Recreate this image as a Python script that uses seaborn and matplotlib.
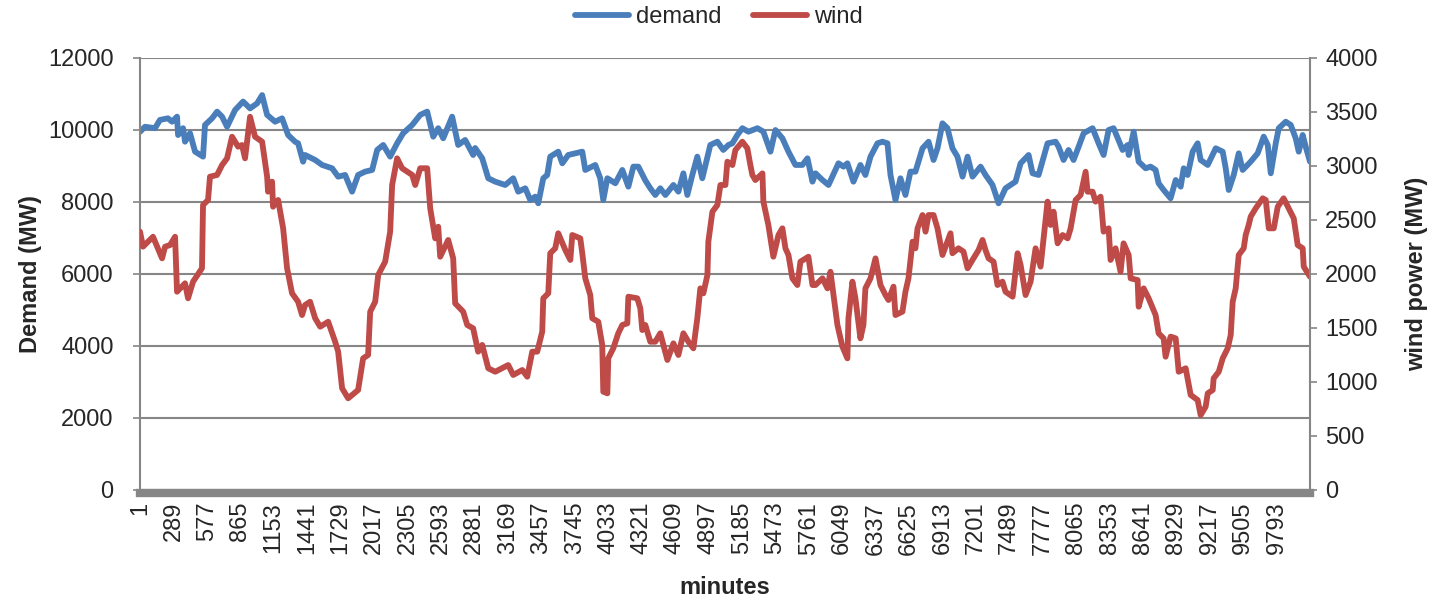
import matplotlib
matplotlib.use("Agg")
import matplotlib.pyplot as plt
import seaborn as sns

# demand curve (minute, MW)
demand_min = [1, 44, 130, 173, 242, 277, 320, 329, 372, 389, 432, 475, 544, 561, 622, 665,
              708, 751, 820, 889, 949, 1010, 1053, 1096, 1165, 1225, 1277, 1337, 1363, 1406,
              1423, 1510, 1570, 1656, 1708, 1768, 1828, 1880, 1940, 2001, 2044, 2096, 2156,
              2216, 2268, 2346, 2415, 2475, 2527, 2570, 2613, 2690, 2742, 2802, 2871, 2888,
              2949, 3001, 3061, 3147, 3216, 3259, 3320, 3363, 3406, 3432, 3475, 3509, 3535,
              3604, 3639, 3690, 3811, 3837, 3923, 3966, 3992, 4027, 4096, 4156, 4208, 4251,
              4294, 4354, 4397, 4440, 4483, 4527, 4596, 4639, 4682, 4716, 4759, 4802, 4845,
              4914, 4975, 5026, 5070, 5104, 5147, 5190, 5242, 5320, 5371, 5432, 5475, 5535,
              5587, 5647, 5707, 5751, 5794, 5820, 5880, 5932, 6018, 6061, 6095, 6147, 6207,
              6250, 6294, 6354, 6397, 6440, 6466, 6509, 6552, 6595, 6638, 6681, 6742, 6794,
              6837, 6871, 6914, 6957, 7000, 7043, 7087, 7130, 7173, 7242, 7285, 7345, 7397,
              7457, 7543, 7587, 7656, 7690, 7742, 7819, 7888, 7914, 7957, 8000, 8043, 8087,
              8130, 8207, 8259, 8302, 8345, 8388, 8466, 8509, 8518, 8561, 8604, 8664, 8707,
              8750, 8776, 8819, 8879, 8923, 8966, 8992, 9026, 9069, 9112, 9138, 9199, 9268,
              9328, 9354, 9380, 9423, 9466, 9500, 9569, 9629, 9681, 9716, 9742, 9785, 9811,
              9871, 9914, 9957, 9983, 10017, 10043, 10080]
demand_mw = [9950, 10090, 10050, 10280, 10325, 10230, 10370, 9860, 10050, 9675, 9910, 9400,
             9260, 10140, 10325, 10510, 10370, 10090, 10555, 10790, 10600, 10740, 10970, 10420,
             10230, 10325, 9860, 9675, 9630, 9120, 9306, 9167, 9029, 8936, 8704, 8751, 8287,
             8751, 8843, 8890, 9445, 9584, 9260, 9630, 9910, 10140, 10420, 10510, 9815, 10050,
             9770, 10370, 9584, 9723, 9306, 9500, 9214, 8659, 8565, 8473, 8659, 8287, 8381,
             8056, 8148, 7964, 8659, 8751, 9260, 9398, 9075, 9306, 9398, 8890, 9029, 8659,
             8056, 8659, 8520, 8890, 8426, 8982, 8982, 8600, 8381, 8195, 8381, 8195, 8473,
             8287, 8797, 8195, 8751, 9260, 8659, 9584, 9675, 9445, 9584, 9630, 9862, 10050,
             9953, 10050, 9953, 9398, 10000, 9770, 9398, 9029, 9029, 9214, 8565, 8797, 8611,
             8473, 9075, 8982, 9075, 8565, 9029, 8751, 9260, 9630, 9675, 9630, 8751, 8056,
             8659, 8195, 8843, 8843, 9492, 9675, 9167, 9492, 10186, 10050, 9492, 9260, 8704,
             9260, 8704, 8982, 8750, 8473, 7964, 8381, 8565, 9075, 9306, 8797, 8751, 9630,
             9675, 9537, 9167, 9445, 9167, 9537, 9910, 10050, 9630, 9306, 10000, 10050, 9445,
             9584, 9306, 9953, 9120, 8936, 8982, 8890, 8520, 8334, 8103, 8611, 8426, 8936,
             8751, 9398, 9630, 9167, 9029, 9492, 9398, 8936, 8334, 8751, 9352, 8890, 9120,
             9352, 9815, 9584, 8797, 9630, 10050, 10230, 10140, 9770, 9398, 9862, 9537, 9120]

# wind curve (minute, MW)
wind_min = [1, 27, 113, 191, 217, 260, 303, 320, 389, 415, 458, 535, 544, 587, 604, 665, 708,
            751, 794, 846, 880, 906, 949, 992, 1053, 1096, 1104, 1139, 1147, 1191, 1234, 1268,
            1311, 1363, 1397, 1423, 1466, 1510, 1553, 1622, 1682, 1708, 1742, 1794, 1880,
            1923, 1966, 1984, 2027, 2053, 2113, 2156, 2173, 2216, 2259, 2346, 2372, 2415,
            2475, 2501, 2544, 2570, 2587, 2656, 2699, 2716, 2785, 2820, 2871, 2914, 2949,
            3001, 3061, 3173, 3216, 3294, 3337, 3380, 3423, 3466, 3475, 3518, 3535, 3578,
            3604, 3665, 3708, 3725, 3794, 3811, 3837, 3880, 3897, 3949, 3983, 3992, 4027,
            4035, 4078, 4121, 4156, 4199, 4208, 4285, 4311, 4328, 4354, 4397, 4440, 4483,
            4544, 4596, 4639, 4682, 4725, 4768, 4802, 4828, 4854, 4889, 4897, 4932, 4975,
            5001, 5044, 5061, 5104, 5130, 5190, 5233, 5259, 5276, 5302, 5363, 5371, 5414,
            5457, 5501, 5535, 5561, 5587, 5621, 5664, 5690, 5759, 5794, 5820, 5880, 5923,
            5949, 6009, 6052, 6095, 6104, 6138, 6164, 6207, 6233, 6250, 6294, 6337, 6380,
            6423, 6449, 6492, 6509, 6569, 6595, 6621, 6656, 6681, 6699, 6742, 6768, 6794,
            6837, 6871, 6914, 6983, 7000, 7052, 7095, 7130, 7181, 7225, 7259, 7285, 7311,
            7354, 7388, 7431, 7457, 7518, 7561, 7587, 7630, 7673, 7716, 7759, 7785, 7819,
            7845, 7871, 7906, 7949, 7992, 8018, 8061, 8104, 8147, 8164, 8207, 8233, 8276,
            8302, 8345, 8362, 8405, 8448, 8474, 8518, 8535, 8595, 8604, 8647, 8690, 8750,
            8776, 8819, 8836, 8879, 8923, 8949, 9009, 9052, 9112, 9138, 9181, 9199, 9242,
            9250, 9294, 9328, 9371, 9397, 9414, 9440, 9466, 9509, 9526, 9552, 9569, 9612,
            9673, 9699, 9725, 9768, 9802, 9853, 9897, 9940, 9974, 10017, 10026, 10080]
wind_mw = [2392, 2253, 2345, 2145, 2253, 2268, 2345, 1836, 1914, 1775, 1929, 2053, 2639, 2685,
           2901, 2917, 3009, 3071, 3271, 3179, 3194, 3071, 3456, 3271, 3225, 2901, 2762, 2855,
           2623, 2685, 2423, 2053, 1821, 1743, 1620, 1713, 1743, 1590, 1512, 1558, 1373, 1281,
           942, 849, 926, 1219, 1250, 1651, 1743, 1991, 2114, 2392, 2824, 3071, 2979, 2917,
           2824, 2979, 2979, 2608, 2330, 2438, 2160, 2315, 2145, 1728, 1651, 1528, 1497, 1281,
           1343, 1127, 1095, 1157, 1065, 1111, 1049, 1281, 1281, 1466, 1775, 1821, 2192, 2238,
           2377, 2222, 2130, 2361, 2330, 2192, 1960, 1805, 1590, 1558, 1343, 910, 895, 1219,
           1312, 1451, 1528, 1543, 1790, 1775, 1682, 1481, 1528, 1373, 1373, 1451, 1204, 1358,
           1250, 1451, 1373, 1312, 1590, 1867, 1821, 1991, 2299, 2577, 2639, 2824, 2824, 3040,
           3009, 3148, 3225, 3164, 3009, 2917, 2870, 2932, 2670, 2454, 2160, 2361, 2423, 2238,
           2176, 1960, 1898, 2114, 2160, 1898, 1898, 1960, 1867, 2021, 1528, 1327, 1219, 1590,
           1929, 1775, 1404, 1528, 1867, 1960, 2145, 1898, 1805, 1759, 1883, 1620, 1651, 1836,
           1960, 2299, 2238, 2423, 2546, 2392, 2546, 2546, 2423, 2176, 2377, 2192, 2238, 2207,
           2053, 2145, 2222, 2315, 2220, 2145, 2114, 1898, 1929, 1836, 1790, 2192, 2083, 1805,
           1929, 2238, 2068, 2330, 2670, 2454, 2577, 2284, 2361, 2330, 2423, 2685, 2732, 2947,
           2762, 2762, 2670, 2716, 2392, 2423, 2130, 2238, 2021, 2284, 2176, 1960, 1944, 1697,
           1867, 1775, 1620, 1451, 1404, 1234, 1420, 1404, 1095, 1127, 880, 833, 694, 771, 895,
           926, 1034, 1095, 1219, 1312, 1435, 1743, 1867, 2176, 2238, 2361, 2454, 2531, 2608,
           2701, 2685, 2423, 2423, 2623, 2701, 2608, 2515, 2268, 2238, 2068, 1975]

x_ticks = list(range(1, 10080, 288))
demand_ticks = [0, 2000, 4000, 6000, 8000, 10000, 12000]
wind_ticks = [0, 500, 1000, 1500, 2000, 2500, 3000, 3500, 4000]

BLUE = "#4A7EBB"
RED = "#BE4B48"
GREY = "#868686"

sns.set_style("white")
plt.rcParams["font.family"] = ["Liberation Sans", "DejaVu Sans"]

fig = plt.figure(figsize=(14.29, 6.0), dpi=100)
ax = fig.add_axes([140 / 1429, 1 - 490 / 600, 1170 / 1429, 432 / 600])
ax2 = ax.twinx()

sns.lineplot(x=demand_min, y=demand_mw, ax=ax, color=BLUE, lw=4.2, sort=False,
             estimator=None, label="demand", legend=False)
sns.lineplot(x=wind_min, y=wind_mw, ax=ax2, color=RED, lw=4.2, sort=False,
             estimator=None, label="wind", legend=False)

ax.set_xlim(1, 10080)
ax.set_ylim(0, 12000)
ax2.set_ylim(0, 4000)
ax.set_yticks(demand_ticks)
ax2.set_yticks(wind_ticks)
ax.set_xticks(x_ticks)
ax.set_xticklabels([str(t) for t in x_ticks])

ax.grid(axis="y", color=GREY, lw=1.5)
ax.grid(axis="x", visible=False)
ax2.grid(False)
ax.set_axisbelow(True)

for a in (ax, ax2):
    for s in a.spines.values():
        s.set_visible(False)
ax.spines["left"].set_visible(True)
ax.spines["left"].set_color(GREY)
ax.spines["left"].set_linewidth(1.5)
ax2.spines["right"].set_visible(True)
ax2.spines["right"].set_color(GREY)
ax2.spines["right"].set_linewidth(1.5)
# dense category tick band under the plot area
ax.spines["bottom"].set_visible(True)
ax.spines["bottom"].set_color(GREY)
ax.spines["bottom"].set_linewidth(6)
ax.spines["bottom"].set_position(("outward", 2.5))

ax.tick_params(axis="y", left=True, length=5, width=1.2, color=GREY, labelsize=17, pad=14)
ax2.tick_params(axis="y", right=True, length=5, width=1.2, color=GREY, labelsize=17, pad=6)
ax.tick_params(axis="x", bottom=False, length=0, labelsize=17, pad=6, labelrotation=90)

ax.set_ylabel("Demand (MW)", fontsize=17, fontweight="bold", labelpad=4)
ax2.set_ylabel("wind power (MW)", fontsize=17, fontweight="bold", rotation=90, labelpad=20)
ax.set_xlabel("minutes", fontsize=17, fontweight="bold", labelpad=15)

handles = ax.get_lines()[:1] + ax2.get_lines()[:1]
fig.legend(handles, ["demand", "wind"], loc="center", bbox_to_anchor=(0.503, 0.972),
           ncol=2, frameon=False, fontsize=17, handlelength=2.3, columnspacing=1.3,
           handletextpad=0.3)

fig.savefig("out.png", dpi=100)
